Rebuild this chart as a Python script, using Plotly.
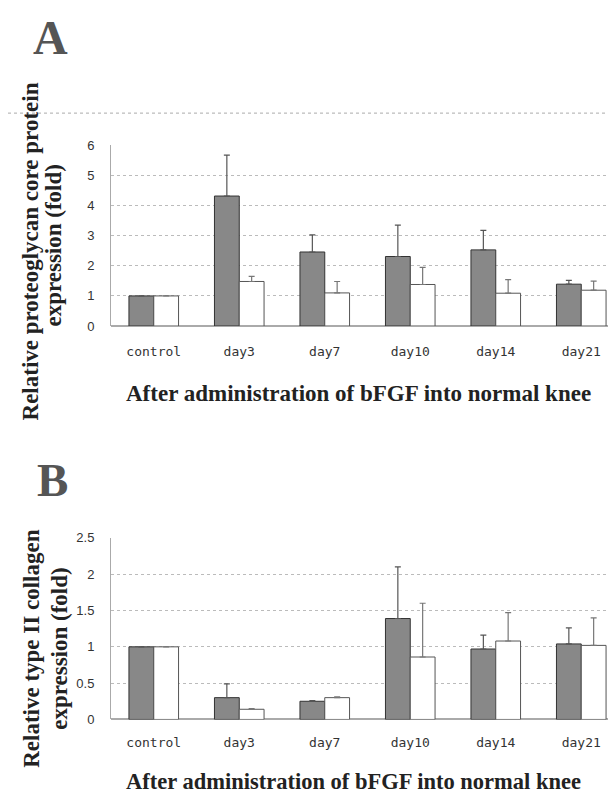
import plotly.graph_objects as go

categories = ["control", "day3", "day7", "day10", "day14", "day21"]

# Panel A: proteoglycan core protein
a_dark = [1.0, 4.32, 2.46, 2.31, 2.53, 1.39]
a_dark_top = [1.0, 5.68, 3.03, 3.35, 3.18, 1.52]
a_white = [1.0, 1.48, 1.10, 1.38, 1.09, 1.19]
a_white_top = [1.0, 1.65, 1.48, 1.95, 1.54, 1.49]

# Panel B: type II collagen
b_dark = [1.0, 0.30, 0.25, 1.39, 0.97, 1.04]
b_dark_top = [1.0, 0.49, 0.26, 2.10, 1.16, 1.26]
b_white = [1.0, 0.14, 0.30, 0.86, 1.08, 1.02]
b_white_top = [1.0, 0.15, 0.31, 1.60, 1.47, 1.40]

a_ticks = [0, 1, 2, 3, 4, 5, 6]
b_ticks = [0, 0.5, 1, 1.5, 2, 2.5]
b_ticklabels = ["0", "0.5", "1", "1.5", "2", "2.5"]

DARK = "#888888"
fig = go.Figure()

def add_pair(dark, dark_top, white, white_top, xa, ya):
    fig.add_trace(go.Bar(
        x=categories, y=dark, xaxis=xa, yaxis=ya,
        marker=dict(color=DARK, line=dict(color="#333333", width=1)),
        error_y=dict(type="data", symmetric=False,
                     array=[t - v for t, v in zip(dark_top, dark)],
                     arrayminus=[0] * len(dark),
                     color="#555555", thickness=1.2, width=3),
        showlegend=False))
    fig.add_trace(go.Bar(
        x=categories, y=white, xaxis=xa, yaxis=ya,
        marker=dict(color="white", line=dict(color="#555555", width=1)),
        error_y=dict(type="data", symmetric=False,
                     array=[t - v for t, v in zip(white_top, white)],
                     arrayminus=[0] * len(white),
                     color="#777777", thickness=1.2, width=3),
        showlegend=False))

add_pair(a_dark, a_dark_top, a_white, a_white_top, "x", "y")
add_pair(b_dark, b_dark_top, b_white, b_white_top, "x2", "y2")

W, H = 616, 794
def py(p):
    return 1 - p / H

xdom = [103 / W, 1.0]
tickfont_x = dict(family="DejaVu Sans Mono", size=13, color="#333333")
tickfont_y = dict(family="Liberation Sans", size=13, color="#333333")
grid = dict(showgrid=True, gridcolor="#bbbbbb", griddash="dot", gridwidth=1)

fig.update_layout(
    width=W, height=H, margin=dict(l=0, r=0, t=0, b=0),
    paper_bgcolor="white", plot_bgcolor="white",
    barmode="group", bargap=0.42, bargroupgap=0,
    xaxis=dict(domain=xdom, anchor="y", range=[-0.5, 5.5],
               tickfont=tickfont_x, showline=False, ticks="", showgrid=False,
               ticklabelstandoff=16),
    yaxis=dict(domain=[py(317), py(133)], anchor="x", range=[0, 6],
               tickvals=a_ticks, tickfont=tickfont_y, ticks="",
               showline=True, linecolor="#aaaaaa", zeroline=True,
               zerolinecolor="#aaaaaa", ticklabelstandoff=13, **grid),
    xaxis2=dict(domain=xdom, anchor="y2", range=[-0.5, 5.5],
                tickfont=tickfont_x, showline=False, ticks="", showgrid=False,
                ticklabelstandoff=14),
    yaxis2=dict(domain=[py(718), py(533)], anchor="x2", range=[0, 2.5],
                tickvals=b_ticks, ticktext=b_ticklabels, tickfont=tickfont_y,
                ticks="", showline=True, linecolor="#aaaaaa", zeroline=True,
                zerolinecolor="#aaaaaa", ticklabelstandoff=13, **grid),
)

# stray scanned dotted line near top of panel A
fig.add_shape(type="line", xref="paper", yref="paper", x0=0, x1=1,
              y0=py(100), y1=py(100), line=dict(color="#aaaaaa", width=1, dash="dot"))

serif = "Liberation Serif"
ann = []
ann.append(dict(text="<b>A</b>", x=42 / W, y=py(23), font=dict(family=serif, size=48, color="#555555")))
ann.append(dict(text="<b>B</b>", x=44 / W, y=py(474), font=dict(family=serif, size=47, color="#555555")))
ann.append(dict(text="<b>After administration of bFGF into normal knee</b>", x=350 / W, y=py(386),
                font=dict(family=serif, size=23, color="#222222")))
ann.append(dict(text="<b>After administration of bFGF into normal knee</b>", x=345 / W, y=py(781),
                font=dict(family=serif, size=22.5, color="#222222")))
ann.append(dict(text="<b>Relative proteoglycan core protein</b>", x=22 / W, y=py(241), textangle=-90,
                font=dict(family=serif, size=23, color="#222222")))
ann.append(dict(text="<b>expression (fold)</b>", x=46 / W, y=py(235), textangle=-90,
                font=dict(family=serif, size=23, color="#222222")))
ann.append(dict(text="<b>Relative type II collagen</b>", x=24 / W, y=py(646), textangle=-90,
                font=dict(family=serif, size=23, color="#222222")))
ann.append(dict(text="<b>expression (fold)</b>", x=52 / W, y=py(646), textangle=-90,
                font=dict(family=serif, size=23, color="#222222")))
for a in ann:
    a.update(xref="paper", yref="paper", showarrow=False, xanchor="center", yanchor="middle")
fig.update_layout(annotations=ann)

fig.write_html("out.html")
